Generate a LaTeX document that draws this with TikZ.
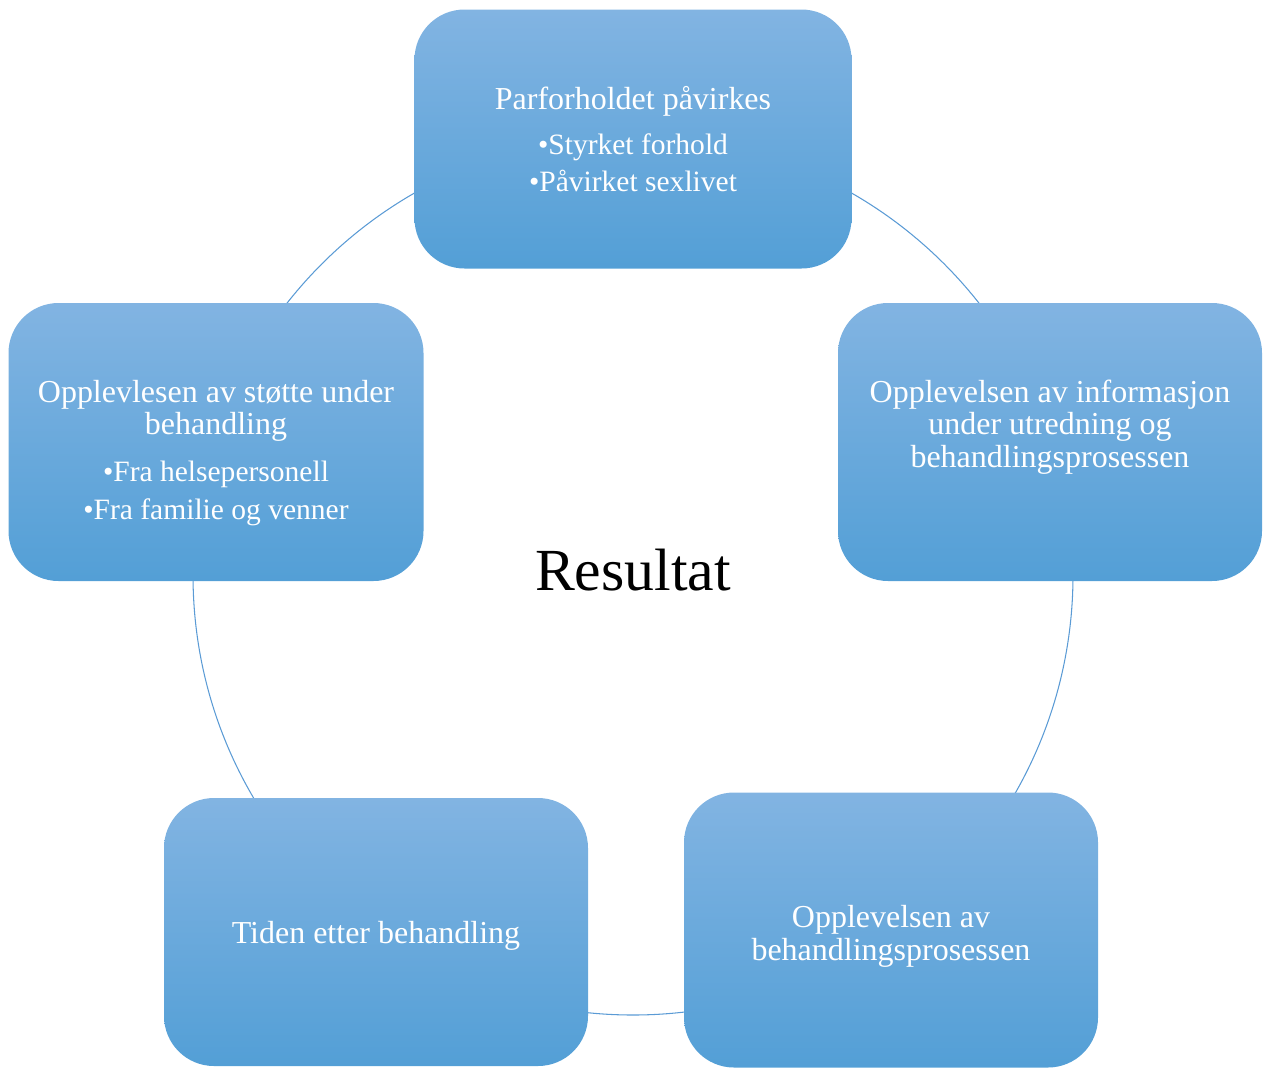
\documentclass[tikz,border=0pt]{standalone}
\usepackage{fontspec}
\setmainfont{Liberation Serif}
\usetikzlibrary{positioning}
\definecolor{boxtop}{HTML}{82B4E2}
\definecolor{boxmid}{HTML}{6AADE2}
\definecolor{boxbot}{HTML}{539FD6}
\definecolor{ringline}{HTML}{5B9BD5}
\newcommand{\subpoint}[1]{{\fontsize{16.8}{18.6}\selectfont •#1}}

\begin{document}
\begin{tikzpicture}[
    stage box/.style={rectangle, rounded corners=1cm, draw=none,
        top color=boxtop, middle color=boxmid, bottom color=boxbot,
        text=white, align=center, inner sep=0pt,
        font=\fontsize{18.2}{18.6}\selectfont},
    ring/.style={ringline, line width=0.6pt},
    centre label/.style={font=\fontsize{34}{40}\selectfont}
]
\useasboundingbox (0,0) rectangle (25.32,-21.36);

% Ring behind the boxes
\coordinate (mid) at (12.66,-11.5);
\draw[ring] (mid) circle (8.8);

% Stages
\node[stage box, minimum width=8.74cm, minimum height=5.18cm] (couple) at (12.66,-2.78)
    {Parforholdet påvirkes\\[7pt]
     \subpoint{Styrket forhold}\\[2pt]
     \subpoint{Påvirket sexlivet}};
\node[stage box, minimum width=8.48cm, minimum height=5.56cm] (info) at (21.0,-8.84)
    {Opplevelsen av informasjon\\
     under utredning og\\
     behandlingsprosessen\rule[-21pt]{0pt}{1pt}};
\node[stage box, minimum width=8.28cm, minimum height=5.5cm] (process) at (17.82,-18.6)
    {\rule{0pt}{20pt}Opplevelsen av\\
     behandlingsprosessen};
\node[stage box, minimum width=8.48cm, minimum height=5.36cm] (after) at (7.52,-18.64)
    {\rule{0pt}{17pt}Tiden etter behandling};
\node[stage box, minimum width=8.3cm, minimum height=5.56cm] (support) at (4.32,-8.84)
    {\rule{0pt}{25pt}Opplevlesen av støtte under\\
     behandling\\[8pt]
     \subpoint{Fra helsepersonell}\\[3pt]
     \subpoint{Fra familie og venner}};

% Centre
\node[centre label] (result) at (12.66,-11.4) {Resultat};
\end{tikzpicture}
\end{document}
